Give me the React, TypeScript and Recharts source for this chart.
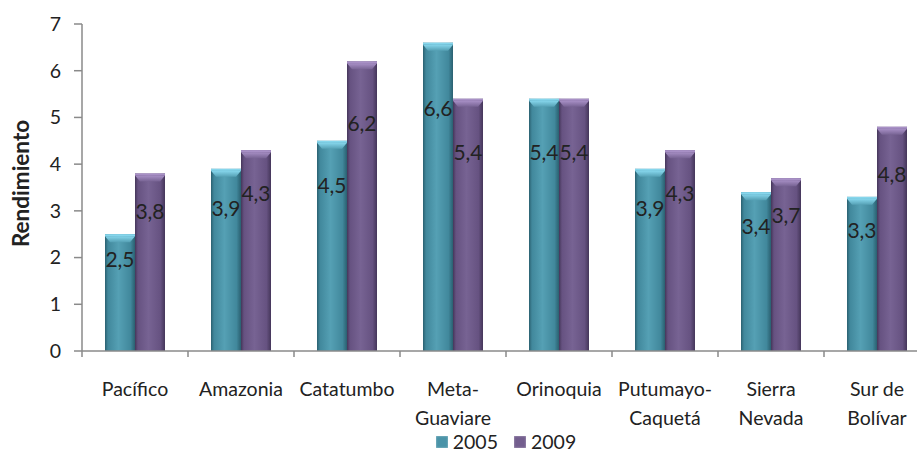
import { Bar, BarChart, LabelList, Legend, XAxis, YAxis } from "recharts";

const categories = [
  "Pacífico",
  "Amazonia",
  "Catatumbo",
  "Meta-\nGuaviare",
  "Orinoquia",
  "Putumayo-\nCaquetá",
  "Sierra\nNevada",
  "Sur de\nBolívar",
];
const values2005 = [2.5, 3.9, 4.5, 6.6, 5.4, 3.9, 3.4, 3.3];
const values2009 = [3.8, 4.3, 6.2, 5.4, 5.4, 4.3, 3.7, 4.8];
const yTicks = [0, 1, 2, 3, 4, 5, 6, 7];
const seriesNames = ["2005", "2009"];

const data = categories.map((name, i) => ({
  name,
  y2005: values2005[i],
  y2009: values2009[i],
}));

const FONT = "Lato, 'Open Sans', sans-serif";
const TEXT = "#222222";
const AXIS = "#8a8a8a";
const CHART_W = 930;
const CHART_H = 454;
const PLOT_LEFT = 82;
const BAND = (CHART_W - PLOT_LEFT) / categories.length;

const tones = {
  teal: { edge: "#2a6070", body: "#41889c", light: "#55a0b4", cap: "#86d6ec" },
  purple: { edge: "#45365a", body: "#665281", light: "#776393", cap: "#a890c6" },
};

function Bar3D(props: any) {
  const { x, y, width, height, tone } = props;
  if (!height || height <= 0) return null;
  const bevel = 8;
  return (
    <g>
      <rect x={x} y={y} width={width} height={height} fill={`url(#body-${tone})`} />
      <rect x={x} y={y} width={width} height={2} fill={tones[tone as "teal"].cap} />
      <polygon
        points={`${x},${y + 2} ${x + width},${y + 2} ${x + width - 5},${y + bevel} ${x + 5},${y + bevel}`}
        fill={`url(#cap-${tone})`}
      />
    </g>
  );
}

function ValueLabel(props: any) {
  const { x, y, width, height, value } = props;
  return (
    <text
      x={x + width / 2}
      y={y + height * 0.21}
      textAnchor="middle"
      dominantBaseline="central"
      fontSize={21}
      fontFamily={FONT}
      fill={TEXT}
    >
      {Number(value).toFixed(1).replace(".", ",")}
    </text>
  );
}

function CategoryTick(props: any) {
  const { x, y, payload } = props;
  const lines = String(payload.value).split("\n");
  const left = x - BAND / 2;
  return (
    <g>
      <line x1={left} y1={y} x2={left} y2={y + 6} stroke={AXIS} strokeWidth={1.5} />
      <text textAnchor="middle" fontSize={19.5} fontFamily={FONT} fill={TEXT}>
        {lines.map((line, i) => (
          <tspan key={i} x={x} y={y + 45 + i * 29}>
            {line}
          </tspan>
        ))}
      </text>
    </g>
  );
}

function AxisTitle(props: any) {
  const { viewBox } = props;
  const cx = viewBox.x + 20.5;
  const cy = viewBox.y + viewBox.height / 2 - 4;
  return (
    <text
      x={cx}
      y={cy}
      transform={`rotate(-90 ${cx} ${cy})`}
      textAnchor="middle"
      dominantBaseline="central"
      fontSize={22.5}
      fontWeight={700}
      fontFamily={FONT}
      fill={TEXT}
    >
      Rendimiento
    </text>
  );
}

function LegendContent() {
  const swatch = ["#4a93a8", "#735e8e"];
  return (
    <div
      style={{
        display: "flex",
        justifyContent: "center",
        alignItems: "center",
        gap: 16,
        height: 24,
        lineHeight: "24px",
        fontFamily: FONT,
        fontSize: 19.5,
        color: TEXT,
      }}
    >
      {seriesNames.map((name, i) => (
        <div key={name} style={{ display: "flex", alignItems: "center", gap: 5 }}>
          <span
            style={{
              display: "inline-block",
              width: 12,
              height: 12,
              background: swatch[i],
              boxShadow: "inset 0 0 2px rgba(255,255,255,0.6)",
            }}
          />
          <span>{name}</span>
        </div>
      ))}
    </div>
  );
}

export default function App() {
  return (
    <div
      style={{
        position: "absolute",
        left: 0,
        top: 0,
        width: 917,
        height: CHART_H,
        overflow: "hidden",
        background: "#ffffff",
        fontFamily: FONT,
      }}
    >
      <BarChart
        width={CHART_W}
        height={CHART_H}
        data={data}
        barGap={0}
        margin={{ top: 24, right: 0, bottom: 0, left: 0 }}
      >
        <defs>
          {(["teal", "purple"] as const).map((t) => (
            <linearGradient key={t} id={`body-${t}`} x1="0" y1="0" x2="1" y2="0">
              <stop offset="0%" stopColor={tones[t].edge} />
              <stop offset="10%" stopColor={tones[t].body} />
              <stop offset="45%" stopColor={tones[t].light} />
              <stop offset="85%" stopColor={tones[t].body} />
              <stop offset="100%" stopColor={tones[t].edge} />
            </linearGradient>
          ))}
          {(["teal", "purple"] as const).map((t) => (
            <linearGradient key={t} id={`cap-${t}`} x1="0" y1="0" x2="0" y2="1">
              <stop offset="0%" stopColor={tones[t].cap} />
              <stop offset="100%" stopColor={tones[t].light} />
            </linearGradient>
          ))}
        </defs>
        <XAxis
          dataKey="name"
          interval={0}
          height={79}
          tickLine={false}
          tickSize={0}
          tickMargin={0}
          axisLine={{ stroke: AXIS, strokeWidth: 1.5 }}
          tick={<CategoryTick />}
        />
        <YAxis
          width={PLOT_LEFT}
          domain={[0, 7]}
          ticks={yTicks}
          interval={0}
          tickSize={8}
          tickMargin={13}
          axisLine={{ stroke: AXIS, strokeWidth: 1.5 }}
          tickLine={{ stroke: AXIS, strokeWidth: 1.5 }}
          tick={{ fontSize: 19.5, fontFamily: FONT, fill: TEXT }}
          label={<AxisTitle />}
        />
        <Legend
          verticalAlign="bottom"
          height={24}
          content={<LegendContent />}
          wrapperStyle={{ left: PLOT_LEFT, width: CHART_W - PLOT_LEFT, bottom: 0 }}
        />
        <Bar
          dataKey="y2005"
          name="2005"
          barSize={30}
          isAnimationActive={false}
          shape={(p: any) => <Bar3D {...p} tone="teal" />}
        >
          <LabelList dataKey="y2005" content={<ValueLabel />} />
        </Bar>
        <Bar
          dataKey="y2009"
          name="2009"
          barSize={30}
          isAnimationActive={false}
          shape={(p: any) => <Bar3D {...p} tone="purple" />}
        >
          <LabelList dataKey="y2009" content={<ValueLabel />} />
        </Bar>
      </BarChart>
    </div>
  );
}
